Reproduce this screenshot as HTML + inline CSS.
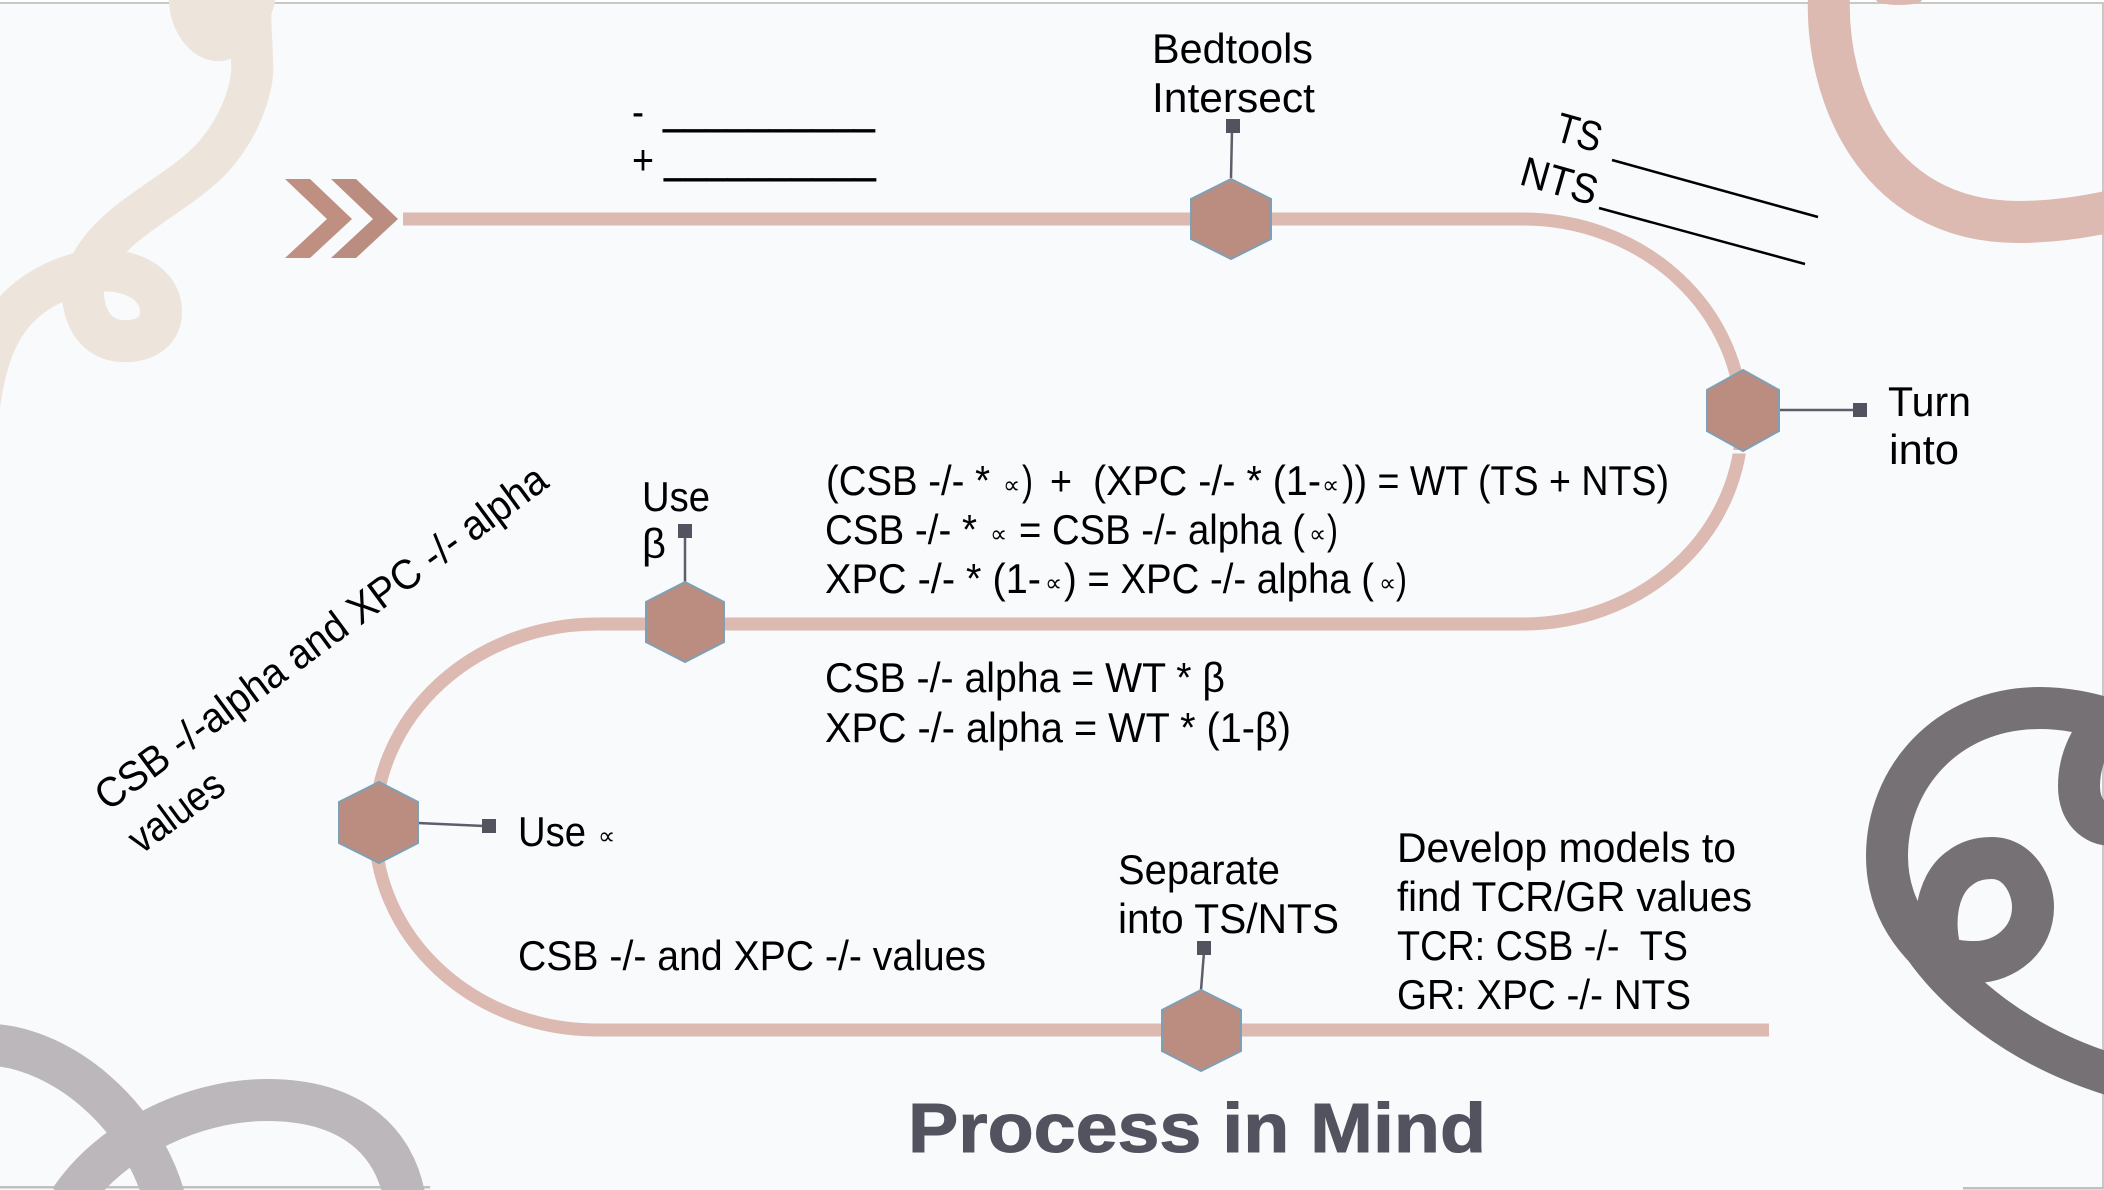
<!DOCTYPE html>
<html>
<head>
<meta charset="utf-8">
<title>Process in Mind</title>
<style>
html,body{margin:0;padding:0;background:#f8fafc;}
svg{display:block;}
text{font-family:"Liberation Sans","DejaVu Sans",sans-serif;fill:#000;font-size:42px;}
text.sm{font-size:24px;font-family:"DejaVu Sans","Liberation Sans",sans-serif;}
</style>
</head>
<body>
<svg xmlns="http://www.w3.org/2000/svg" width="2104" height="1190" viewBox="0 0 2104 1190">
<rect width="2104" height="1190" fill="#f8fafc"/>
<rect x="0" y="0" width="2104" height="2" fill="#ffffff"/>
<rect x="0" y="2" width="2104" height="2" fill="#c8c8c4"/>
<rect x="2102" y="2" width="2" height="1186" fill="#c8c8c4"/>
<rect x="0" y="1186" width="430" height="2.5" fill="#c0c0bd"/>
<rect x="1963" y="1187" width="141" height="2.5" fill="#c0c0bd"/>

<!-- beige squiggle -->
<g fill="none" stroke="#ede5dc" stroke-width="42" stroke-linecap="butt">
<path d="M-24 430 C-16 360 -5 305 65 278 C110 260 161 275 161 312 C161 335 140 342 122 341 C92 340 82 310 83 290 C85 262 110 235 138 215 C165 195 195 178 215 155 C245 120 254 80 252 62 C252 45 250 30 250 -5"/>
<path d="M190 -10 C187 20 205 42 220 40 C235 37 250 20 255 -5"/>
<path d="M205 8 L245 8" stroke-width="20"/>
</g>

<!-- pink squiggle -->
<g fill="none" stroke="#dcb9b1" stroke-width="42">
<path d="M1829 -5 C1825 92 1875 222 2018 222 C2050 222 2080 218 2112 211"/>
</g>
<ellipse cx="1899" cy="0" rx="23" ry="5" fill="#dcb9b1"/>

<!-- dark grey squiggle -->
<g fill="none" stroke="#767175" stroke-width="42">
<path d="M2115 722 C2090 712 2060 708 2040 708 C1945 708 1887 780 1887 856 C1887 895 1903 925 1925 948 C1955 990 2015 1045 2112 1075"/>
<path d="M1945 965 C1930 930 1935 885 1960 868 C1970 860 1982 858 1992 858 C2018 858 2033 885 2033 907 C2033 940 2005 962 1975 962 C1960 962 1950 960 1935 955"/>
<path d="M2112 715 C2090 735 2079 760 2079 786 C2079 812 2095 825 2112 825"/>
</g>

<!-- lilac squiggle -->
<g fill="none" stroke="#bcb7bb" stroke-width="42">
<path d="M-5 1045 C60 1050 140 1110 165 1200"/>
<path d="M70 1200 C90 1170 120 1145 155 1128 C190 1110 230 1100 267 1100 C350 1100 395 1140 405 1200"/>
</g>

<!-- chevrons -->
<polygon points="285,179 310,179 352,219 310,258 285,258 327,219" fill="#bf8f82"/>
<polygon points="331,179 356,179 398,219 356,258 331,258 373,219" fill="#bb8d81"/>

<!-- track -->
<path d="M403 219 H1523 A219 202.5 0 0 1 1523 624 H597 A222 203 0 0 0 597 1030 H1769" fill="none" stroke="#dcb9b1" stroke-width="13"/>
<rect x="1725" y="450" width="36" height="3.5" fill="#f8fafc"/>

<!-- connectors -->
<g stroke="#5e5e6a" stroke-width="2.5" fill="none">
<line x1="1231" y1="178" x2="1232" y2="130"/>
<line x1="1779" y1="410" x2="1856" y2="410"/>
<line x1="685" y1="582" x2="685" y2="536"/>
<line x1="418" y1="823" x2="484" y2="826"/>
<line x1="1201" y1="990" x2="1204" y2="952"/>
</g>
<g fill="#53535f">
<rect x="1226" y="119" width="14" height="14"/>
<rect x="1853" y="403" width="14" height="14"/>
<rect x="678" y="524" width="14" height="14"/>
<rect x="482" y="819" width="14" height="14"/>
<rect x="1197" y="941" width="14" height="14"/>
</g>

<!-- hexagons -->
<g fill="#bb8d81" stroke="#7f9fb5" stroke-width="2">
<polygon points="1231,179 1271,199 1271,239 1231,259 1191,239 1191,199"/>
<polygon points="1743,370 1779,390 1779,431 1743,451 1707,431 1707,390"/>
<polygon points="685,582 724,602 724,642 685,662 646,642 646,602"/>
<polygon points="379,782 418,802 418,843 379,863 339,843 339,802"/>
<polygon points="1201,990 1241,1010 1241,1051 1201,1071 1162,1051 1162,1010"/>
</g>

<!-- strand lines -->
<g stroke="#000" stroke-width="2.5">
<line x1="1612" y1="160" x2="1818" y2="217"/>
<line x1="1599" y1="208" x2="1805" y2="264"/>
</g>

<!-- labels -->
<text x="1152" y="63" textLength="161" lengthAdjust="spacingAndGlyphs">Bedtools</text>
<text x="1152" y="112" textLength="163" lengthAdjust="spacingAndGlyphs">Intersect</text>

<text x="632" y="126" textLength="12" lengthAdjust="spacingAndGlyphs">-</text>
<text x="632" y="174" textLength="22" lengthAdjust="spacingAndGlyphs">+</text>
<text x="663" y="122" style="font-size:54px" textLength="212" lengthAdjust="spacingAndGlyphs">__________</text>
<text x="664" y="171" style="font-size:54px" textLength="212" lengthAdjust="spacingAndGlyphs">__________</text>

<text transform="translate(1553 140) rotate(16)" textLength="46" lengthAdjust="spacingAndGlyphs">TS</text>
<text transform="translate(1518 184) rotate(16)" textLength="78" lengthAdjust="spacingAndGlyphs">NTS</text>

<text x="1888" y="416" textLength="83" lengthAdjust="spacingAndGlyphs">Turn</text>
<text x="1889" y="464" textLength="70" lengthAdjust="spacingAndGlyphs">into</text>

<!-- line 1 -->
<text x="826" y="495" textLength="164" lengthAdjust="spacingAndGlyphs">(CSB -/- *</text>
<text x="1003" y="493" class="sm">∝</text>
<text x="1022" y="495" textLength="11" lengthAdjust="spacingAndGlyphs">)</text>
<text x="1050" y="495" textLength="22" lengthAdjust="spacingAndGlyphs">+</text>
<text x="1093" y="495" textLength="228" lengthAdjust="spacingAndGlyphs">(XPC -/- * (1-</text>
<text x="1322" y="493" class="sm">∝</text>
<text x="1342" y="495" textLength="327" lengthAdjust="spacingAndGlyphs">)) = WT (TS + NTS)</text>
<!-- line 2 -->
<text x="825" y="544" textLength="152" lengthAdjust="spacingAndGlyphs">CSB -/- *</text>
<text x="990" y="542" class="sm">∝</text>
<text x="1019" y="544" textLength="286" lengthAdjust="spacingAndGlyphs">= CSB -/- alpha (</text>
<text x="1309" y="542" class="sm">∝</text>
<text x="1327" y="544" textLength="11" lengthAdjust="spacingAndGlyphs">)</text>
<!-- line 3 -->
<text x="825" y="593" textLength="216" lengthAdjust="spacingAndGlyphs">XPC -/- * (1-</text>
<text x="1045" y="591" class="sm">∝</text>
<text x="1064" y="593" textLength="310" lengthAdjust="spacingAndGlyphs">) = XPC -/- alpha (</text>
<text x="1379" y="591" class="sm">∝</text>
<text x="1396" y="593" textLength="11" lengthAdjust="spacingAndGlyphs">)</text>

<text x="825" y="692" textLength="400" lengthAdjust="spacingAndGlyphs">CSB -/- alpha = WT * β</text>
<text x="825" y="742" textLength="466" lengthAdjust="spacingAndGlyphs">XPC -/- alpha = WT * (1-β)</text>

<text x="642" y="511" textLength="68" lengthAdjust="spacingAndGlyphs">Use</text>
<text x="642" y="558" textLength="24" lengthAdjust="spacingAndGlyphs">β</text>

<text x="518" y="846" textLength="68" lengthAdjust="spacingAndGlyphs">Use</text>
<text x="598" y="844" class="sm">∝</text>

<text transform="translate(108 812) rotate(-36.4)" textLength="550" lengthAdjust="spacingAndGlyphs">CSB -/-alpha and XPC -/- alpha</text>
<text transform="translate(141 855) rotate(-36.4)" textLength="108" lengthAdjust="spacingAndGlyphs">values</text>

<text x="518" y="970" textLength="468" lengthAdjust="spacingAndGlyphs">CSB -/- and XPC -/- values</text>

<text x="1118" y="884" textLength="162" lengthAdjust="spacingAndGlyphs">Separate</text>
<text x="1118" y="933" textLength="221" lengthAdjust="spacingAndGlyphs">into TS/NTS</text>

<text x="1397" y="862" textLength="339" lengthAdjust="spacingAndGlyphs">Develop models to</text>
<text x="1397" y="911" textLength="355" lengthAdjust="spacingAndGlyphs">find TCR/GR values</text>
<text x="1397" y="960" textLength="291" lengthAdjust="spacingAndGlyphs" xml:space="preserve">TCR: CSB -/-  TS</text>
<text x="1397" y="1009" textLength="294" lengthAdjust="spacingAndGlyphs">GR: XPC -/- NTS</text>

<text x="908" y="1152" textLength="578" lengthAdjust="spacingAndGlyphs" style="font-size:70px;font-weight:bold;fill:#53535f;stroke:#53535f;stroke-width:1">Process in Mind</text>
</svg>
</body>
</html>
